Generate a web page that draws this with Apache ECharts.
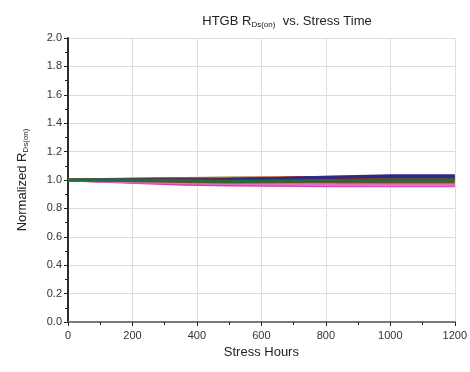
<!DOCTYPE html>
<html>
<head>
<meta charset="utf-8">
<title>HTGB RDs(on)</title>
<script src="https://cdn.jsdelivr.net/npm/echarts@6/dist/echarts.min.js"></script>
<style>html,body{margin:0;padding:0;background:#fff;}</style>
</head>
<body>
<div id="main" style="width:470px;height:372px;"></div>
<script>
// stress hours at which devices were measured
var hours = [0, 168, 360, 500, 830, 1000, 1200];
// normalized RDs(on) per device
var dev1 = [1.000, 1.005, 1.010, 1.010, 1.002, 1.000, 1.000];
var dev2 = [1.000, 1.004, 1.010, 1.014, 1.015, 1.018, 1.018];
var dev3 = [1.000, 1.000, 1.008, 1.010, 1.020, 1.022, 1.022];
var dev4 = [1.000, 1.000, 1.004, 1.006, 1.018, 1.020, 1.020];
var dev5 = [1.000, 1.000, 1.000, 1.002, 1.022, 1.030, 1.030];
var dev6 = [1.000, 0.990, 0.976, 0.972, 0.970, 0.970, 0.970];
var dev7 = [1.000, 0.986, 0.970, 0.964, 0.960, 0.960, 0.960];
var dev8 = [1.000, 0.990, 0.980, 0.976, 0.966, 0.965, 0.965];
var dev9 = [1.000, 0.996, 0.990, 0.986, 0.990, 0.990, 0.990];
var dev10 = [1.000, 1.000, 0.996, 0.992, 0.996, 1.000, 1.000];

var devices = [dev1, dev2, dev3, dev4, dev5, dev6, dev7, dev8, dev9, dev10];
var colors = ['#2f8a2a', '#8a7a1a', '#d4501e', '#8b1a1a', '#2a2a8c',
              '#8e44ad', '#d63fb8', '#e070c8', '#7a4a2a', '#1f6e3a'];

var font = 'Liberation Sans, Arial, sans-serif';
var myChart = echarts.init(document.getElementById('main'));

var series = devices.map(function (d, i) {
    return {
        type: 'line',
        data: hours.map(function (h, j) { return [h, d[j]]; }),
        showSymbol: false,
        lineStyle: { width: 3, color: colors[i] },
        itemStyle: { color: colors[i] },
        animation: false
    };
});

var option = {
    backgroundColor: '#fff',
    title: {
        text: 'HTGB R{s|Ds(on)}  vs. Stress Time',
        left: 282, top: 8, textAlign: 'center',
        textStyle: {
            fontFamily: font, fontSize: 13, fontWeight: 'normal', color: '#222',
            rich: { s: { fontFamily: font, fontSize: 8, verticalAlign: 'bottom', padding: [8, 0, 0, 0], color: '#222' } }
        }
    },
    grid: { left: 68, right: 15, top: 38, bottom: 50 },
    xAxis: [{
        type: 'value', min: 0, max: 1200, interval: 200,
        name: 'Stress Hours', nameLocation: 'middle', nameGap: 23,
        nameTextStyle: { fontFamily: font, fontSize: 13, color: '#222' },
        axisLine: { lineStyle: { color: '#222', width: 1.5 } },
        axisTick: { show: true, length: 4, lineStyle: { color: '#222' } },
        minorTick: { show: true, splitNumber: 2, length: 3, lineStyle: { color: '#222' } },
        axisLabel: { fontFamily: font, fontSize: 11, color: '#333', margin: 8,
            formatter: function (v) { return String(v); } },
        splitLine: { show: true, lineStyle: { color: '#ddd' } }
    }, {
        type: 'value', min: 0, max: 1200, interval: 200, position: 'top',
        axisLine: { show: true, lineStyle: { color: '#888', width: 1.5 } },
        axisTick: { show: false }, axisLabel: { show: false }, splitLine: { show: false }
    }],
    yAxis: [{
        type: 'value', min: 0, max: 2, interval: 0.2,
        name: 'Normalized R{s|Ds(on)}', nameLocation: 'middle', nameGap: 38,
        nameTextStyle: {
            fontFamily: font, fontSize: 13, color: '#222',
            rich: { s: { fontFamily: font, fontSize: 8, verticalAlign: 'bottom', padding: [8, 0, 0, 0], color: '#222' } }
        },
        axisLine: { show: true, lineStyle: { color: '#222', width: 1.5 } },
        axisTick: { show: true, length: 4, lineStyle: { color: '#222' } },
        minorTick: { show: true, splitNumber: 2, length: 3, lineStyle: { color: '#222' } },
        axisLabel: { fontFamily: font, fontSize: 11, color: '#333', margin: 6,
            formatter: function (v) { return v.toFixed(1); } },
        splitLine: { show: true, lineStyle: { color: '#ddd' } }
    }, {
        type: 'value', min: 0, max: 2, interval: 0.2, position: 'right',
        axisLine: { show: true, lineStyle: { color: '#222', width: 1.5 } },
        axisTick: { show: false }, axisLabel: { show: false }, splitLine: { show: false }
    }],
    series: series
};
myChart.setOption(option);
</script>
</body>
</html>
